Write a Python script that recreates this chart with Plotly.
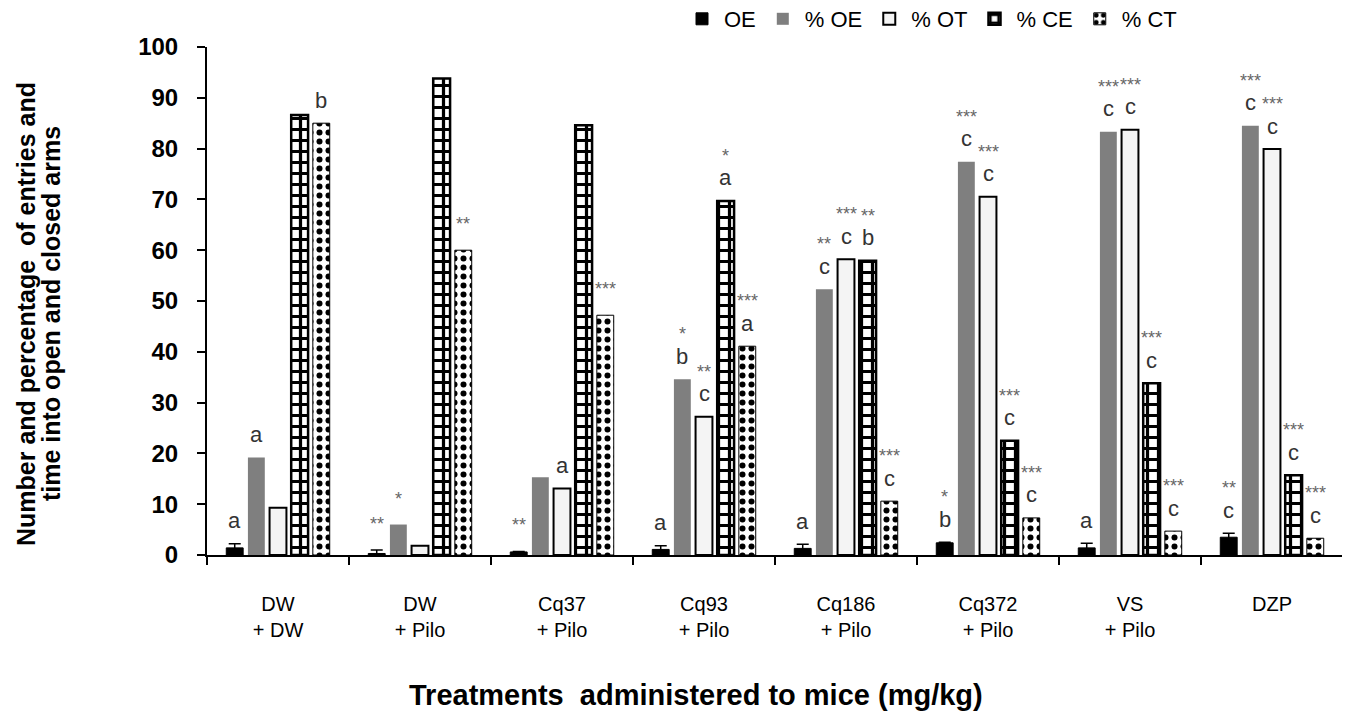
import plotly.graph_objects as go

categories = ["DW<br>+ DW", "DW<br>+ Pilo", "Cq37<br>+ Pilo", "Cq93<br>+ Pilo",
              "Cq186<br>+ Pilo", "Cq372<br>+ Pilo", "VS<br>+ Pilo", "DZP"]

series_names = ["OE", "% OE", "% OT", "% CE", "% CT"]

oe = [1.4, 0.3, 0.6, 1.1, 1.3, 2.4, 1.4, 3.5]
oe_err = [0.8, 0.7, 0.1, 0.7, 0.8, 0.1, 0.9, 0.8]
pct_oe = [19.2, 6.0, 15.3, 34.6, 52.3, 77.4, 83.3, 84.5]
pct_ot = [9.3, 1.8, 13.1, 27.2, 58.2, 70.5, 83.7, 79.9]
pct_ce = [86.6, 93.8, 84.6, 69.7, 57.9, 22.5, 33.8, 15.7]
pct_ct = [85.0, 60.0, 47.2, 41.1, 10.6, 7.3, 4.7, 3.3]

letters_oe = ["a", "", "", "a", "a", "b", "a", "c"]
letters_pct_oe = ["a", "", "", "b", "c", "c", "c", "c"]
letters_pct_ot = ["", "", "a", "c", "c", "c", "c", "c"]
letters_pct_ce = ["", "", "", "a", "b", "c", "c", "c"]
letters_pct_ct = ["b", "", "", "a", "c", "c", "c", "c"]

stars_oe = ["", "**", "**", "", "", "*", "", "**"]
stars_pct_oe = ["", "*", "", "*", "**", "***", "***", "***"]
stars_pct_ot = ["", "", "", "**", "***", "***", "***", "***"]
stars_pct_ce = ["", "", "", "*", "**", "***", "***", "***"]
stars_pct_ct = ["", "**", "***", "***", "***", "***", "***", "***"]

values = [oe, pct_oe, pct_ot, pct_ce, pct_ct]
letters = [letters_oe, letters_pct_oe, letters_pct_ot, letters_pct_ce, letters_pct_ct]
stars = [stars_oe, stars_pct_oe, stars_pct_ot, stars_pct_ce, stars_pct_ct]

BARGAP = 0.238
GROUPGAP = 0.22

fig = go.Figure()

fig.add_trace(go.Bar(name=series_names[0], x=categories, y=oe,
                     marker=dict(color="black", line=dict(color="black", width=1)),
                     error_y=dict(type="data", array=oe_err, visible=True,
                                  color="black", thickness=1.5, width=6)))
fig.add_trace(go.Bar(name=series_names[1], x=categories, y=pct_oe,
                     marker=dict(color="#7f7f7f", line=dict(width=0))))
fig.add_trace(go.Bar(name=series_names[2], x=categories, y=pct_ot,
                     marker=dict(color="#f4f4f4", line=dict(color="black", width=2))))
fig.add_trace(go.Bar(name=series_names[3], x=categories, y=pct_ce,
                     marker=dict(color="white", line=dict(color="black", width=2.5),
                                 pattern=dict(shape="+", fgcolor="black", bgcolor="white",
                                              size=11, solidity=0.5, fillmode="replace"))))
fig.add_trace(go.Bar(name=series_names[4], x=categories, y=pct_ct,
                     marker=dict(color="white", line=dict(color="black", width=1),
                                 pattern=dict(shape=".", fgcolor="black", bgcolor="white",
                                              size=9, solidity=0.35, fillmode="replace"))))

slot = (1 - BARGAP) / 5
annotations = []
for si in range(5):
    for ci in range(len(categories)):
        xpos = ci + (si - 2) * slot
        top = values[si][ci] + (oe_err[ci] if si == 0 else 0)
        let = letters[si][ci]
        st = stars[si][ci]
        if let:
            annotations.append(dict(x=xpos, y=top, xref="x", yref="y", text=let,
                                    showarrow=False, yanchor="middle", yshift=23,
                                    font=dict(family="Liberation Sans", size=22, color="#333333")))
            if st:
                annotations.append(dict(x=xpos, y=top, xref="x", yref="y", text=st,
                                        showarrow=False, yanchor="middle", yshift=45,
                                        font=dict(family="Liberation Sans", size=18, color="#666666")))
        elif st:
            annotations.append(dict(x=xpos, y=top, xref="x", yref="y", text=st,
                                    showarrow=False, yanchor="middle", yshift=26,
                                    font=dict(family="Liberation Sans", size=18, color="#666666")))

annotations.append(dict(x=(696 - 207) / 1136, y=-140 / 508, xref="paper", yref="paper",
                        text="<b>Treatments  administered to mice (mg/kg)</b>",
                        showarrow=False, xanchor="center", yanchor="middle",
                        font=dict(family="Liberation Sans", size=29, color="black")))
annotations.append(dict(x=(26 - 207) / 1136, y=(555 - 314) / 508, xref="paper", yref="paper",
                        text="<b>Number and percentage  of entries and</b>",
                        showarrow=False, textangle=-90, xanchor="center", yanchor="middle",
                        font=dict(family="Liberation Sans", size=25, color="black")))
annotations.append(dict(x=(51 - 207) / 1136, y=(555 - 314) / 508, xref="paper", yref="paper",
                        text="<b>time into open and closed arms</b>",
                        showarrow=False, textangle=-90, xanchor="center", yanchor="middle",
                        font=dict(family="Liberation Sans", size=25, color="black")))

# axis overhangs (x-axis line extends left of y-axis; y-axis extends below x-axis)
shapes = [
    dict(type="line", xref="paper", yref="paper", xsizemode="pixel", xanchor=0,
         x0=-7, x1=0, y0=0, y1=0, line=dict(color="black", width=2)),
    dict(type="line", xref="paper", yref="paper", ysizemode="pixel", yanchor=0,
         y0=-7, y1=0, x0=0, x1=0, line=dict(color="black", width=2)),
]

fig.update_layout(
    width=1350, height=723,
    margin=dict(l=199, r=15, t=39, b=176, autoexpand=False),
    paper_bgcolor="white", plot_bgcolor="white",
    barmode="group", bargap=BARGAP, bargroupgap=GROUPGAP,
    font=dict(family="Liberation Sans", color="black"),
    showlegend=True,
    legend=dict(orientation="h", x=(680 - 207) / 1136, xanchor="left", y=1 + 28 / 508, yanchor="middle",
                font=dict(family="Liberation Sans", size=22, color="black"),
                itemwidth=34, bgcolor="rgba(0,0,0,0)"),
    annotations=annotations,
    shapes=shapes,
)

fig.update_xaxes(type="category", showline=True, linecolor="black", linewidth=2,
                 ticks="outside", tickson="boundaries", ticklen=8, tickwidth=2,
                 tickcolor="black", showgrid=False, ticklabelstandoff=30,
                 tickfont=dict(family="Liberation Sans", size=20, color="black"))
fig.update_yaxes(range=[0, 100], dtick=10, showline=True, linecolor="black", linewidth=2,
                 ticks="outside", ticklen=8, tickwidth=2, tickcolor="black",
                 showgrid=False, zeroline=False, ticklabelstandoff=14,
                 tickprefix="<b>", ticksuffix="</b>",
                 tickfont=dict(family="Liberation Sans", size=24, color="black"))

fig.write_html("out.html")
